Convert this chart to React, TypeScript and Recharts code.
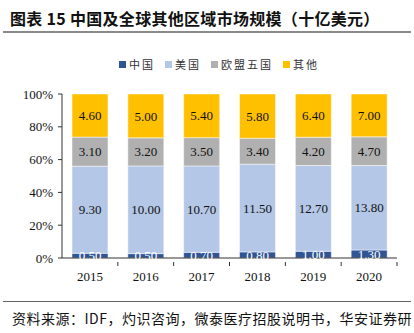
import React from "react";
import { BarChart, Bar, XAxis, YAxis, Legend, LabelList } from "recharts";

const years = ["2015", "2016", "2017", "2018", "2019", "2020"];
const china = [0.5, 0.5, 0.7, 0.8, 1.0, 1.3];
const usa = [9.3, 10.0, 10.7, 11.5, 12.7, 13.8];
const eu5 = [3.1, 3.2, 3.5, 3.4, 4.2, 4.7];
const others = [4.6, 5.0, 5.4, 5.8, 6.4, 7.0];
const yTicks = [0, 0.2, 0.4, 0.6, 0.8, 1];

const seriesNames = ["中国", "美国", "欧盟五国", "其他"];
const seriesKeys = ["china", "usa", "eu5", "others"];
const seriesColors = ["#2F5597", "#B4C7E7", "#B0B0B0", "#FFC000"];
const labelColors = ["#ffffff", "#111111", "#111111", "#111111"];

const data = years.map((y, i) => ({
  year: y,
  china: china[i],
  usa: usa[i],
  eu5: eu5[i],
  others: others[i],
}));

const SERIF = '"Liberation Serif", "Times New Roman", serif';
const CJK = '"Noto Sans CJK SC", sans-serif';

const CHART_W = 414;
const CHART_H = 333;
const LEGEND_H = 14;
const MARGIN = { top: 94 - LEGEND_H, right: 17, bottom: 45, left: 0 };
const Y_W = 62;
const STEP = (CHART_W - MARGIN.right - MARGIN.left - Y_W) / years.length;

const XTick = (props: any) => {
  const { x, y, payload } = props;
  return (
    <g>
      <line x1={x + STEP / 2} x2={x + STEP / 2} y1={y - 4} y2={y} stroke="#333" strokeWidth={1} />
      <text x={x} y={y + 15} textAnchor="middle" fontFamily={SERIF} fontSize={13} fill="#111">
        {payload.value}
      </text>
    </g>
  );
};

const LegendContent = () => (
  <div style={{ display: "flex", justifyContent: "center", fontFamily: CJK, fontSize: 11, color: "#333", letterSpacing: 2, lineHeight: "14px", height: LEGEND_H, paddingLeft: 34 }}>
    {seriesNames.map((n, i) => (
      <div key={n} style={{ display: "flex", alignItems: "center", marginRight: 10 }}>
        <span style={{ display: "inline-block", width: 7, height: 7, background: seriesColors[i], marginRight: 3 }} />
        <span>{n}</span>
      </div>
    ))}
  </div>
);

export default function App() {
  return (
    <div style={{ position: "absolute", left: 0, top: 0, width: CHART_W, height: CHART_H, background: "#fff" }}>
      <div style={{ position: "absolute", left: 10, top: 6, fontFamily: CJK, fontWeight: 700, fontSize: 16, letterSpacing: 0.3, color: "#111", whiteSpace: "nowrap" }}>
        图表 15 中国及全球其他区域市场规模（十亿美元）
      </div>
      <div style={{ position: "absolute", left: 3, top: 31, width: 408, height: 2, background: "#8a8a8a" }} />
      <div style={{ position: "absolute", left: 0, top: 0 }}>
        <BarChart width={CHART_W} height={CHART_H} data={data} stackOffset="expand" margin={MARGIN} barSize={36}>
          <Legend verticalAlign="top" content={<LegendContent />} wrapperStyle={{ top: 57, left: 0, width: CHART_W }} />
          <XAxis dataKey="year" tick={<XTick />} tickLine={false} axisLine={{ stroke: "#333" }} interval={0} height={30} />
          <YAxis
            width={Y_W}
            ticks={yTicks}
            domain={[0, 1]}
            tickFormatter={(v: number) => `${Math.round(v * 100)}%`}
            tick={{ fontFamily: SERIF, fontSize: 13, fill: "#111" }}
            tickSize={4}
            tickMargin={5}
            tickLine={{ stroke: "#333" }}
            axisLine={{ stroke: "#333" }}
            interval={0}
          />
          {seriesKeys.map((k, i) => (
            <Bar key={k} dataKey={k} stackId="a" fill={seriesColors[i]} stroke="#ffffff" strokeWidth={0.5} isAnimationActive={false}>
              <LabelList
                dataKey={k}
                position="center"
                formatter={(v: number) => v.toFixed(2)}
                style={{ fontFamily: SERIF, fontSize: 13, fill: labelColors[i] }}
              />
            </Bar>
          ))}
        </BarChart>
      </div>
      <div style={{ position: "absolute", left: 3, top: 301, width: 408, height: 1, background: "#666" }} />
      <div style={{ position: "absolute", left: 12, top: 309, fontFamily: CJK, fontSize: 14, letterSpacing: 0.5, color: "#111", whiteSpace: "nowrap", lineHeight: "18px" }}>
        资料来源：IDF，灼识咨询，微泰医疗招股说明书，华安证券研
      </div>
    </div>
  );
}
